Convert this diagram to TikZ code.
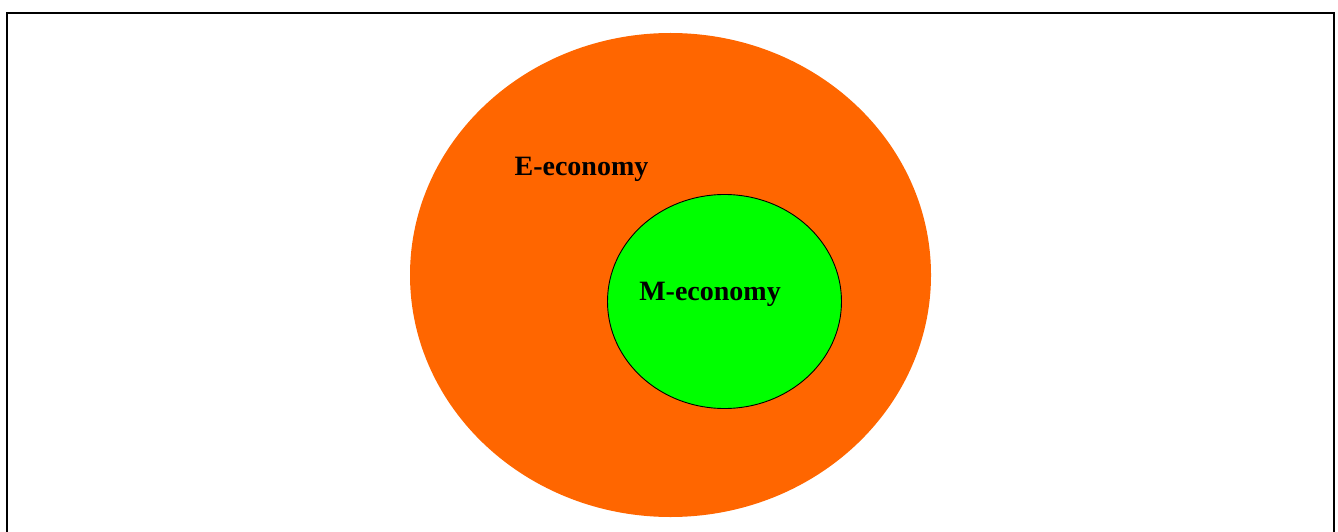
\documentclass[tikz,border=0pt]{standalone}
\usepackage{fontspec}
\setmainfont{Liberation Serif}
\usetikzlibrary{shapes.geometric}

\begin{document}
\begin{tikzpicture}[x=1pt, y=-1pt,
    outer/.style={ellipse, fill={rgb,255:red,255;green,102;blue,0}, inner sep=0pt, minimum width=521pt, minimum height=484pt},
    inner/.style={ellipse, draw, line width=0.9pt, fill={rgb,255:red,0;green,255;blue,0}, inner sep=0pt, minimum width=234pt, minimum height=214pt},
    lbl/.style={font=\fontsize{28}{30}\selectfont\bfseries, inner sep=0pt}]

    \useasboundingbox (0,0) rectangle (1338,532);
    \draw[line width=2pt] (7,540) -- (7,13) -- (1334,13) -- (1334,540);

    \node[outer] (E) at (670.5,275) {};
    \node[inner] (M) at (724.5,301.5) {};

    \node[lbl] (Elbl) at (581.5,169) {E-economy};
    \node[lbl] (Mlbl) at (710,294) {M-economy};
\end{tikzpicture}
\end{document}
